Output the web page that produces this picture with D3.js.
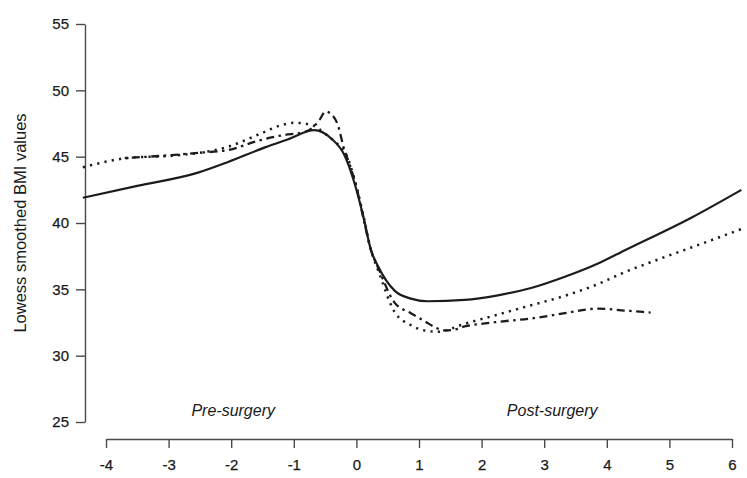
<!DOCTYPE html>
<html>
<head>
<meta charset="utf-8">
<script src="https://cdn.jsdelivr.net/npm/d3@7"></script>
<style>
  html, body { margin: 0; padding: 0; background: #fff; }
  svg { display: block; font-family: "Liberation Sans", Arial, sans-serif; }
</style>
</head>
<body>
<div id="chart"></div>
<script>
// years relative to surgery vs lowess smoothed BMI
const solidX = [-4.37, -3.5, -2.53, -2.05, -1.46, -1.1, -0.67, -0.41, -0.19, -0.03, 0.11, 0.23, 0.35, 0.61, 0.87, 1.14, 1.73, 2.26, 2.79, 3.33, 3.86, 4.29, 5.35, 6.15]
const solidY = [41.9, 42.8, 43.8, 44.6, 45.7, 46.3, 47.0, 46.4, 45.1, 43.0, 40.5, 38.0, 36.7, 34.9, 34.3, 34.1, 34.2, 34.55, 35.1, 35.95, 36.95, 37.95, 40.4, 42.5]

const dottedX = [-4.37, -3.65, -2.85, -2.05, -1.5, -1.25, -0.99, -0.72, -0.51, -0.29, -0.19, -0.03, 0.11, 0.23, 0.35, 0.61, 0.87, 1.09, 1.3, 1.73, 2.26, 2.79, 3.32, 3.86, 4.29, 4.82, 5.35, 6.18]
const dottedY = [44.2, 44.9, 45.1, 45.75, 46.8, 47.3, 47.55, 47.4, 46.76, 45.9, 45.4, 43.3, 40.6, 38.0, 36.4, 33.3, 32.3, 31.9, 31.8, 32.4, 33.1, 33.8, 34.5, 35.4, 36.3, 37.25, 38.15, 39.6]

const dashDotX = [-3.7, -3.0, -2.5, -2.05, -1.57, -1.2, -0.8, -0.6, -0.49, -0.4, -0.29, -0.21, -0.1, 0.0, 0.11, 0.23, 0.35, 0.61, 0.87, 1.09, 1.25, 1.41, 1.6, 1.73, 1.99, 2.26, 2.79, 3.33, 3.86, 4.29, 4.7]
const dashDotY = [44.9, 45.1, 45.3, 45.5, 46.2, 46.6, 46.9, 47.7, 48.4, 48.2, 47.3, 45.8, 44.3, 42.7, 40.4, 38.0, 36.6, 34.0, 33.2, 32.6, 32.15, 31.9, 32.0, 32.2, 32.4, 32.55, 32.8, 33.2, 33.55, 33.4, 33.25]

const xTicks = [-4, -3, -2, -1, 0, 1, 2, 3, 4, 5, 6]
const yTicks = [25, 30, 35, 40, 45, 50, 55]
const yTitle = "Lowess smoothed BMI values"
const periodLabels = [{ t: -2, text: "Pre-surgery" }, { t: 3, text: "Post-surgery" }]

const width = 747
const height = 478

const svg = d3.select("#chart")
  .append("svg")
  .attr("width", width)
  .attr("height", height)

const x = d3.scaleLinear().domain([-4, 6]).range([106, 732])
const y = d3.scaleLinear().domain([25, 55]).range([422, 24])

// Axes (R style: line spans first to last tick)
svg.append("g")
  .attr("transform", `translate(0,439)`)
  .call(d3.axisBottom(x).tickValues(xTicks).tickSize(9).tickSizeOuter(0).tickPadding(11)
    .tickFormat(d => String(d)))

svg.append("g")
  .attr("transform", `translate(85,0)`)
  .call(d3.axisLeft(y).tickValues(yTicks).tickSize(9).tickSizeOuter(0).tickPadding(7)
    .tickFormat(d => String(d)))

svg.selectAll(".domain, .tick line").attr("stroke", "#4a4a4a").attr("stroke-width", 1.4)
svg.selectAll(".tick text")
  .attr("fill", "#1a1a1a")
  .attr("stroke", "#1a1a1a")
  .attr("stroke-width", 0.25)
  .style("font-size", "15px")
  .style("font-family", "'Liberation Sans', Arial, sans-serif")

svg.append("text")
  .attr("transform", `translate(26,${y(40)}) rotate(-90)`)
  .attr("text-anchor", "middle")
  .attr("fill", "#1a1a1a")
  .style("font-size", "16.5px")
  .text(yTitle)

svg.selectAll(".period")
  .data(periodLabels)
  .enter()
  .append("text")
  .attr("class", "period")
  .attr("x", (d, i) => x(d.t) + (i === 0 ? 2 : 8))
  .attr("y", 416)
  .attr("text-anchor", "middle")
  .attr("fill", "#1a1a1a")
  .style("font-size", "16px")
  .style("font-style", "italic")
  .text(d => d.text)

// Curves
const line = d3.line()
  .x(d => x(d[0]))
  .y(d => y(d[1]))
  .curve(d3.curveMonotoneX)

const series = [
  { xs: dottedX, ys: dottedY, dash: "2.2,5.2", width: 2.5 },
  { xs: dashDotX, ys: dashDotY, dash: "2.5,4.5,8,4.5", width: 2.3 },
  { xs: solidX, ys: solidY, dash: null, width: 2.2 }
]

svg.append("g").selectAll("path")
  .data(series)
  .enter()
  .append("path")
  .attr("fill", "none")
  .attr("stroke", "#1c1c1c")
  .attr("stroke-width", d => d.width)
  .attr("stroke-dasharray", d => d.dash)
  .attr("d", d => line(d.xs.map((v, i) => [v, d.ys[i]])))
</script>
</body>
</html>
